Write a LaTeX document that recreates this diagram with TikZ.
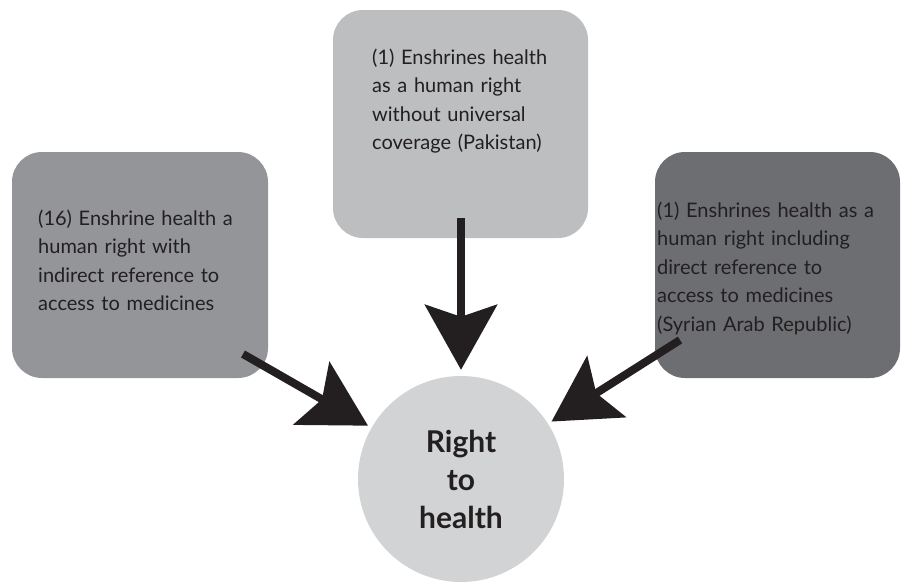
\documentclass[tikz,border=0pt]{standalone}
\usepackage{fontspec}
\setmainfont{Lato}
\usetikzlibrary{arrows.meta}
\definecolor{boxA}{HTML}{939598}
\definecolor{boxB}{HTML}{BCBEC0}
\definecolor{boxC}{HTML}{6D6E71}
\definecolor{circ}{HTML}{D1D3D4}
\definecolor{ink}{HTML}{231F20}
\tikzset{
  box/.style={rounded corners=30pt, inner sep=0pt, draw=none},
  boxtext/.style={anchor=base west, inner sep=0pt, align=left, text=ink,
    font=\fontsize{20}{28.6}\selectfont},
  bigarrow/.style={line width=8pt, draw=ink, shorten >=4pt,
    -{Stealth[length=65pt,width=72pt,inset=12pt]}},
}
\begin{document}
\begin{tikzpicture}[x=1pt,y=1pt]
\useasboundingbox (0,-581) rectangle (901,0);
% boxes
\node[box, fill=boxA, minimum width=256pt, minimum height=226pt] (lb) at (140,-265) {};
\node[box, fill=boxB, minimum width=255pt, minimum height=228pt] (tb) at (460.5,-124) {};
\node[box, fill=boxC, minimum width=245pt, minimum height=226pt] (rb) at (777.5,-265) {};
% circle
\node[circle, fill=circ, minimum size=206pt, inner sep=0pt, text=ink,
  font=\fontsize{30}{38}\selectfont\bfseries, align=center] (c) at (461,-479)
  {Right\\to\\health};
% texts
\node[boxtext, text width=240pt] (lt) at (38,-225)
  {(16) Enshrine health a\\human right with\\indirect reference to\\access to medicines};
\node[boxtext, text width=210pt] (tt) at (372,-64)
  {(1) Enshrines health\\as a human right\\without universal\\coverage (Pakistan)};
\node[boxtext, text width=240pt] (rt) at (657,-217)
  {(1) Enshrines health as a\\human right including\\direct reference to\\access to medicines\\(Syrian Arab Republic)};
% arrow starts
\coordinate (ls) at (243,-354);
\coordinate (ts) at (461,-218);
\coordinate (rs) at (680,-340);
\draw[bigarrow] (ls) -- (c);
\draw[bigarrow, shorten >=6pt] (ts) -- (c);
\draw[bigarrow] (rs) -- (c);
\end{tikzpicture}
\end{document}
